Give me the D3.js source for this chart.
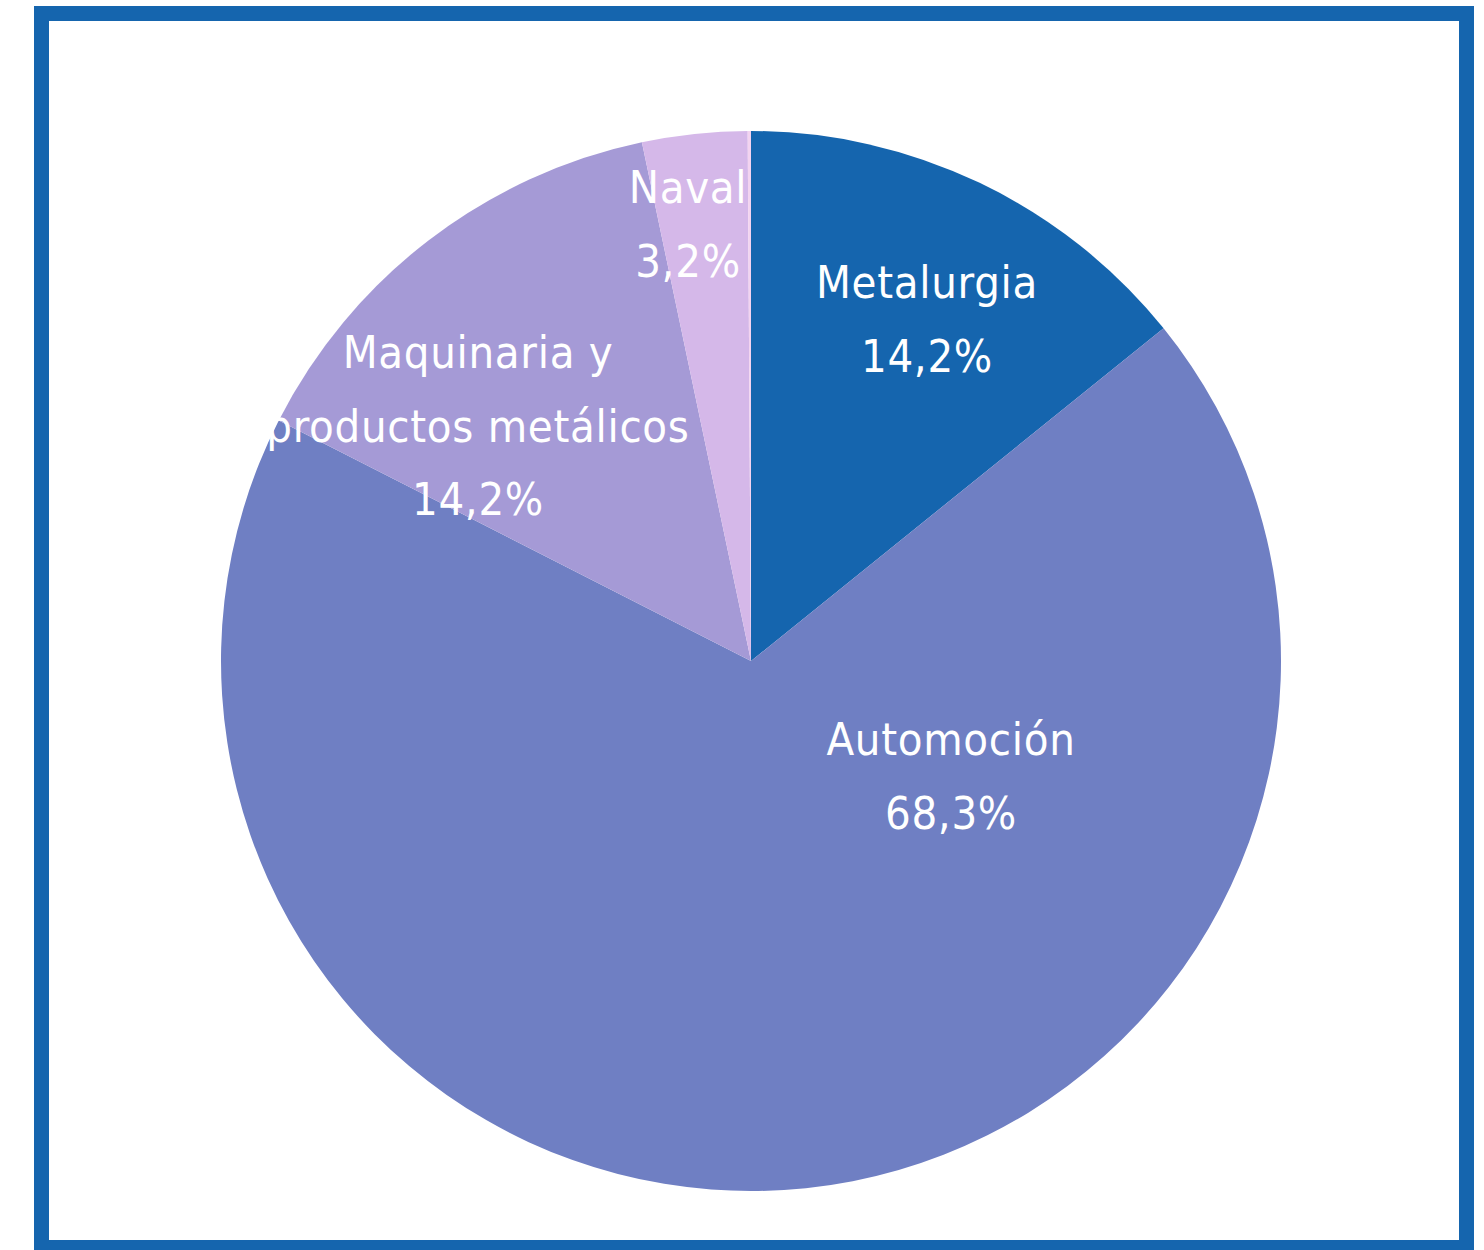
<!DOCTYPE html>
<html><head><meta charset="utf-8">
<script src="https://cdn.jsdelivr.net/npm/d3@7"></script>
<style>html,body{margin:0;padding:0;background:#fff;}</style>
</head><body>
<script>
const categories = ["Metalurgia", "Automoción", "Maquinaria y productos metálicos", "Naval", "Otros"];
const values = [14.2, 68.3, 14.2, 3.2, 0.1];
const valueLabels = ["14,2%", "68,3%", "14,2%", "3,2%", ""];
const labelLines = [["Metalurgia"], ["Automoción"], ["Maquinaria y", "productos metálicos"], ["Naval"], []];
const colors = ["#1565AE", "#6F7FC3", "#A59AD6", "#D5B8E9", "#F3D3F0"];
// label block anchors (pixel layout, top baseline)
const labelAnchors = [[927, 298], [951, 755], [478, 368], [688, 203], null];

const W = 1484, H = 1250;
const cx = 751, cy = 661, R = 530;
const svg = d3.select("body").append("svg").attr("width", W).attr("height", H);

svg.append("rect").attr("x", 41.5).attr("y", 13.5).attr("width", 1425).attr("height", 1234)
  .attr("fill", "none").attr("stroke", "#1565AE").attr("stroke-width", 15);

const data = categories.map((c, i) => ({cat: c, value: values[i], i}));
const pie = d3.pie().value(d => d.value).sort(null);
const arc = d3.arc().innerRadius(0).outerRadius(R);
const color = d3.scaleOrdinal().domain(categories).range(colors);

const g = svg.append("g").attr("transform", `translate(${cx},${cy})`);
g.selectAll("path").data(pie(data)).join("path")
  .attr("d", arc).attr("fill", d => color(d.data.cat));

const lh = 73.5;
data.forEach((d, i) => {
  if (!labelAnchors[i]) return;
  const [x, y] = labelAnchors[i];
  const lines = labelLines[i].concat([valueLabels[i]]);
  const t = svg.append("text").attr("text-anchor", "middle")
    .attr("font-family", "'DejaVu Sans Condensed', 'DejaVu Sans', sans-serif")
    .attr("font-size", 45).attr("letter-spacing", 0.7).attr("fill", "#fff");
  lines.forEach((l, k) => t.append("tspan").attr("x", x).attr("y", y + k * lh).text(l));
});
</script>
</body></html>
